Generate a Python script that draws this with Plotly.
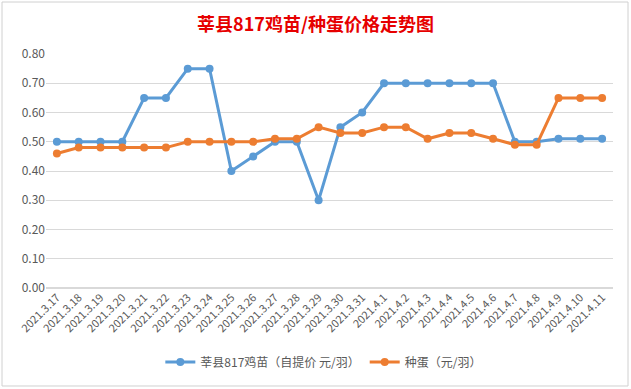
import plotly.graph_objects as go

categories = ["2021.3.17", "2021.3.18", "2021.3.19", "2021.3.20", "2021.3.21", "2021.3.22",
              "2021.3.23", "2021.3.24", "2021.3.25", "2021.3.26", "2021.3.27", "2021.3.28",
              "2021.3.29", "2021.3.30", "2021.3.31", "2021.4.1", "2021.4.2", "2021.4.3",
              "2021.4.4", "2021.4.5", "2021.4.6", "2021.4.7", "2021.4.8", "2021.4.9",
              "2021.4.10", "2021.4.11"]
chick_price = [0.50, 0.50, 0.50, 0.50, 0.65, 0.65, 0.75, 0.75, 0.40, 0.45, 0.50, 0.50, 0.30,
               0.55, 0.60, 0.70, 0.70, 0.70, 0.70, 0.70, 0.70, 0.50, 0.50, 0.51, 0.51, 0.51]
egg_price = [0.46, 0.48, 0.48, 0.48, 0.48, 0.48, 0.50, 0.50, 0.50, 0.50, 0.51, 0.51, 0.55,
             0.53, 0.53, 0.55, 0.55, 0.51, 0.53, 0.53, 0.51, 0.49, 0.49, 0.65, 0.65, 0.65]
y_ticks = [0.0, 0.1, 0.2, 0.3, 0.4, 0.5, 0.6, 0.7, 0.8]

series_names = ["莘县817鸡苗（自提价 元/羽）", "种蛋（元/羽）"]
title_text = "莘县817鸡苗/种蛋价格走势图"

font_family = "Noto Sans CJK SC, Microsoft YaHei, sans-serif"

fig = go.Figure()
fig.add_trace(go.Scatter(x=categories, y=chick_price, name=series_names[0], mode="lines+markers",
                         line=dict(color="#5B9BD5", width=3), marker=dict(size=8, color="#5B9BD5")))
fig.add_trace(go.Scatter(x=categories, y=egg_price, name=series_names[1], mode="lines+markers",
                         line=dict(color="#ED7D31", width=3), marker=dict(size=8, color="#ED7D31")))

fig.update_layout(
    width=631, height=389,
    margin=dict(l=46, r=18, t=54, b=101),
    paper_bgcolor="white", plot_bgcolor="white",
    font=dict(family=font_family, color="#595959", size=12),
    title=dict(text="<b>" + title_text + "</b>", x=0.5, xanchor="center", y=1 - 25 / 389, yanchor="middle",
               font=dict(family=font_family, color="#E60000", size=18)),
    showlegend=True,
    legend=dict(orientation="h", x=0.49, xanchor="center", y=-0.316, yanchor="middle",
                font=dict(size=12, color="#595959"), itemwidth=30),
    xaxis=dict(type="category", range=[-0.5, len(categories) - 0.5], tickangle=-45,
               showgrid=False, showline=False, ticks="", tickfont=dict(size=11, color="#595959"),
               fixedrange=True),
    yaxis=dict(range=[0, 0.8], tickvals=y_ticks, tickformat=".2f", showgrid=True, gridcolor="#D9D9D9",
               gridwidth=1, zeroline=True, zerolinecolor="#D9D9D9", showline=False, ticks="",
               tickfont=dict(size=12, color="#595959")),
    shapes=[dict(type="rect", xref="paper", yref="paper", x0=-0.0776, x1=1.0265, y0=-0.4188, y1=1.2222,
                 line=dict(color="#D0D0D0", width=1), layer="below")],
)

fig.write_html("out.html", config={"displayModeBar": False},
               post_script="document.body.style.margin='0';document.body.style.overflow='hidden';")
